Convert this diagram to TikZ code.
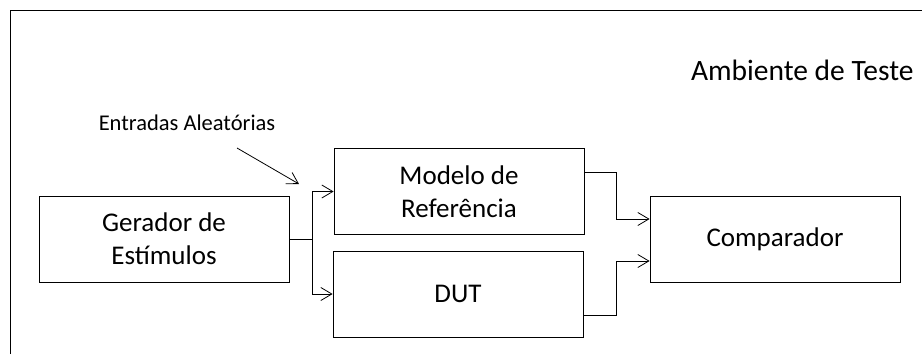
\documentclass[tikz,border=0pt]{standalone}
\usepackage{fontspec}
\setmainfont{Carlito}
\usetikzlibrary{arrows.meta}

\tikzset{
  bloco/.style={draw, thick, minimum width=250pt, minimum height=86pt, inner sep=0pt,
    align=center, font=\fontsize{27}{33}\selectfont},
  seta/.style={->, thick},
}

\begin{document}
\begin{tikzpicture}[x=1pt, y=-1pt, >={Straight Barb[length=11pt,width=13pt]}]
    \useasboundingbox (0,0) rectangle (922,354);

    % moldura do ambiente
    \draw[thick] (10.5,354) -- (10.5,10.5) -- (922,10.5);
    \node[anchor=east, font=\fontsize{29.5}{35}\selectfont] (amb) at (917,70) {Ambiente de Teste};

    \node[bloco] (gerador) at (164,239) {Gerador de\\Estímulos};
    \node[bloco] (modelo) at (459,191.5) {Modelo de\\Referência};
    \node[bloco] (dut) at (458,294) {DUT};
    \node[bloco] (comp) at (775,239) {Comparador};

    \node[font=\fontsize{22.5}{27}\selectfont] (entradas) at (187,123) {Entradas Aleatórias};
    \coordinate (ea) at (237,148);
    \coordinate (eb) at (299,184);
    \draw[seta] (ea) -- (eb);

    \coordinate (J) at (312,239);
    \draw[thick] (gerador.east) -- (J);
    \draw[seta] (J) |- (modelo.west);
    \draw[seta] (J) |- (dut.west);

    \draw[seta] ([yshift=19.5pt]modelo.east) -- ++(32,0) |- ([yshift=20pt]comp.west);
    \draw[seta] ([yshift=-21pt]dut.east) -- ++(33,0) |- ([yshift=-22pt]comp.west);
\end{tikzpicture}
\end{document}
